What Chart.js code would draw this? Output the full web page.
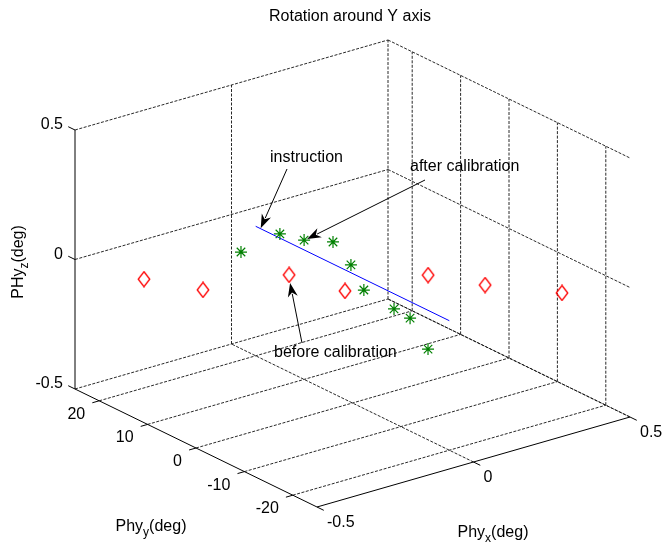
<!DOCTYPE html>
<html>
<head>
<meta charset="utf-8">
<script src="https://cdn.jsdelivr.net/npm/chart.js@4/dist/chart.umd.min.js"></script>
<style>
  html, body { margin: 0; padding: 0; background: #fff; }
  #wrap { width: 664px; height: 547px; position: relative; }
</style>
</head>
<body>
<div id="wrap"><canvas id="chart"></canvas></div>
<script>
// Axis limits and ticks
const xLimits = [-0.5, 0.5];
const yLimits = [-25, 25];
const zLimits = [-0.5, 0.5];
const xTicks = [-0.5, 0, 0.5];
const yTicks = [-20, -10, 0, 10, 20];
const zTicks = [-0.5, 0, 0.5];
const xTickLabels = ['-0.5', '0', '0.5'];
const yTickLabels = ['-20', '-10', '0', '10', '20'];
const zTickLabels = ['-0.5', '0', '0.5'];

// Instruction (commanded rotation)
const instructionX = [0, 0];
const instructionY = [20, -20];
const instructionZ = [0, 0];

// Before calibration
const beforeX = [-0.357, -0.272, -0.099, -0.024, 0.138, 0.218, 0.360];
const beforeY = [20, 13.3, 6.7, 0, -6.7, -13.3, -20];
const beforeZ = [-0.080, -0.090, -0.032, -0.059, 0.007, 0.001, -0.018];

// After calibration
const afterX = [-0.047, 0.000, 0.000, 0.015, -0.005, -0.041, -0.022, -0.048, -0.068];
const afterY = [20, 15, 10, 5, 0, -5, -10, -15, -20];
const afterZ = [-0.083, 0.016, 0.038, 0.071, 0.035, -0.004, -0.038, -0.019, -0.086];

// View: where the box corner (xmin, ymin, zmin) lands and the three box edges
const boxOrigin = [317, 507];
const boxEdgeX = [313, -90];
const boxEdgeY = [-242, -118];
const boxEdgeZ = [0, -259];

const FONT = '"Liberation Sans", Arial, sans-serif';
const SIZE = 16, SUB = 12;
const GREEN = '#008000';

// Project a 3D value onto the flat view plane
function project(x, y, z) {
    const nx = (x - xLimits[0]) / (xLimits[1] - xLimits[0]);
    const ny = (y - yLimits[0]) / (yLimits[1] - yLimits[0]);
    const nz = (z - zLimits[0]) / (zLimits[1] - zLimits[0]);
    return {
        x: boxOrigin[0] + nx * boxEdgeX[0] + ny * boxEdgeY[0] + nz * boxEdgeZ[0],
        y: boxOrigin[1] + nx * boxEdgeX[1] + ny * boxEdgeY[1] + nz * boxEdgeZ[1]
    };
}

function toPoints(xs, ys, zs) {
    return xs.map((x, i) => project(x, ys[i], zs[i]));
}

// Line dataset from a 3D segment
function segment(a, b, dashed) {
    return {
        type: 'scatter',
        data: [project(a[0], a[1], a[2]), project(b[0], b[1], b[2])],
        showLine: true,
        borderColor: dashed ? '#111' : '#000',
        borderWidth: dashed ? 0.9 : 1,
        borderDash: dashed ? [3, 1.5] : [],
        pointRadius: 0,
        order: dashed ? 10 : 5
    };
}

const [x0, x1] = xLimits;
const [y0, y1] = yLimits;
const [z0, z1] = zLimits;

const gridSets = [];
// back-left wall (y = ymax)
xTicks.filter(v => v !== x0).forEach(v => gridSets.push(segment([v, y1, z0], [v, y1, z1], true)));
zTicks.forEach(v => gridSets.push(segment([x0, y1, v], [x1, y1, v], true)));
// back-right wall (x = xmax)
yTicks.forEach(v => gridSets.push(segment([x1, v, z0], [x1, v, z1], true)));
zTicks.forEach(v => gridSets.push(segment([x1, y1, v], [x1, y0, v], true)));
// floor (z = zmin)
yTicks.forEach(v => gridSets.push(segment([x0, v, z0], [x1, v, z0], true)));
xTicks.filter(v => v !== x0).forEach(v => gridSets.push(segment([v, y0, z0], [v, y1, z0], true)));

// Axis lines and tick marks
const tickLenY = 1.4;     // in y units
const tickLenX = 0.022;   // in x units
const axisSets = [
    segment([x0, y1, z0], [x0, y1, z1], false),
    segment([x0, y0, z0], [x0, y1, z0], false),
    segment([x0, y0, z0], [x1, y0, z0], false)
];
zTicks.forEach(v => axisSets.push(segment([x0, y1, v], [x0, y1 + tickLenY, v], false)));
yTicks.forEach(v => axisSets.push(segment([x0, v, z0], [x0 - tickLenX, v, z0], false)));
xTicks.forEach(v => axisSets.push(segment([v, y0, z0], [v, y0 - tickLenY, z0], false)));

// Diamond marker, a little taller than wide
function diamondMarker() {
    const c = document.createElement('canvas');
    c.width = 14; c.height = 17;
    const g = c.getContext('2d');
    g.strokeStyle = '#ff0000';
    g.lineWidth = 1.3;
    g.beginPath();
    g.moveTo(7, 1); g.lineTo(12.8, 8.5); g.lineTo(7, 16); g.lineTo(1.2, 8.5);
    g.closePath();
    g.stroke();
    return c;
}

const instructionPts = toPoints(instructionX, instructionY, instructionZ);
const beforePts = toPoints(beforeX, beforeY, beforeZ);
const afterPts = toPoints(afterX, afterY, afterZ);

// Text with a subscript part
function subText(ctx, parts, x, y) {
    let w = 0;
    parts.forEach(p => {
        ctx.font = (p[1] ? SUB : SIZE) + 'px ' + FONT;
        w += ctx.measureText(p[0]).width;
    });
    let cx = x - w / 2;
    ctx.textAlign = 'left';
    ctx.textBaseline = 'middle';
    parts.forEach(p => {
        ctx.font = (p[1] ? SUB : SIZE) + 'px ' + FONT;
        ctx.fillText(p[0], cx, p[1] ? y + 6 : y);
        cx += ctx.measureText(p[0]).width;
    });
}

function arrow(ctx, fx, fy, tx, ty) {
    const a = Math.atan2(ty - fy, tx - fx);
    const len = 14, half = 5;
    const c = Math.cos(a), s = Math.sin(a);
    ctx.beginPath();
    ctx.moveTo(fx, fy);
    ctx.lineTo(tx - c * len * 0.8, ty - s * len * 0.8);
    ctx.stroke();
    ctx.beginPath();
    ctx.moveTo(tx, ty);
    ctx.lineTo(tx - c * len - s * half, ty - s * len + c * half);
    ctx.lineTo(tx - c * len * 0.7, ty - s * len * 0.7);
    ctx.lineTo(tx - c * len + s * half, ty - s * len - c * half);
    ctx.closePath();
    ctx.fill();
}

const labelsPlugin = {
    id: 'labels3d',
    afterDraw(chart) {
        const ctx = chart.ctx;
        const sx = chart.scales.x, sy = chart.scales.y;
        const px = p => ({ x: sx.getPixelForValue(p.x), y: sy.getPixelForValue(p.y) });
        ctx.save();
        ctx.fillStyle = '#000';
        ctx.strokeStyle = '#000';
        ctx.lineWidth = 1;
        ctx.font = SIZE + 'px ' + FONT;

        // z tick labels
        ctx.textAlign = 'right';
        ctx.textBaseline = 'middle';
        zTicks.forEach((v, i) => {
            const p = px(project(x0, y1, v));
            ctx.fillText(zTickLabels[i], p.x - 12, p.y - 5);
        });
        // y tick labels
        yTicks.forEach((v, i) => {
            const p = px(project(x0, v, z0));
            ctx.fillText(yTickLabels[i], p.x - 14, p.y + 13.5);
        });
        // x tick labels
        ctx.textAlign = 'left';
        xTicks.forEach((v, i) => {
            const p = px(project(v, y0, z0));
            ctx.fillText(xTickLabels[i], p.x + 10, p.y + 15.5);
        });

        // title, centred over the box
        ctx.textAlign = 'center';
        ctx.fillText('Rotation around Y axis', 350, 17);

        // axis titles
        subText(ctx, [['Phy', false], ['y', true], ['(deg)', false]], 151, 527);
        subText(ctx, [['Phy', false], ['x', true], ['(deg)', false]], 493, 533);
        ctx.save();
        ctx.translate(19, 262);
        ctx.rotate(-Math.PI / 2);
        subText(ctx, [['PHy', false], ['z', true], ['(deg)', false]], 0, 0);
        ctx.restore();

        // annotations
        ctx.font = SIZE + 'px ' + FONT;
        ctx.textAlign = 'left';
        ctx.textBaseline = 'middle';
        ctx.fillText('instruction', 270, 158);
        ctx.fillText('after calibration', 410, 167);
        ctx.fillText('before calibration', 274, 353);

        const tipInstr = px(instructionPts[0]);
        arrow(ctx, 287, 169, tipInstr.x + 5, tipInstr.y + 2);
        const tipAfter = px(afterPts[2]);
        arrow(ctx, 425, 180, tipAfter.x + 3, tipAfter.y - 1);
        const tipBefore = px(beforePts[2]);
        arrow(ctx, 302, 343, tipBefore.x + 1, tipBefore.y + 8);
        ctx.restore();
    }
};

new Chart(document.getElementById('chart'), {
    type: 'scatter',
    data: {
        datasets: [
            ...gridSets,
            ...axisSets,
            {
                label: 'instruction',
                data: instructionPts,
                showLine: true,
                borderColor: '#0000ff',
                borderWidth: 1,
                pointRadius: 0,
                order: 3
            },
            {
                label: 'before calibration',
                data: beforePts,
                pointStyle: diamondMarker(),
                pointRadius: 6,
                order: 2
            },
            {
                label: 'after calibration',
                data: afterPts,
                pointStyle: 'star',
                pointRadius: 6,
                borderColor: GREEN,
                backgroundColor: GREEN,
                borderWidth: 1.2,
                order: 1
            }
        ]
    },
    options: {
        responsive: true,
        maintainAspectRatio: false,
        animation: false,
        layout: { padding: 0, autoPadding: false },
        plugins: {
            legend: { display: false },
            tooltip: { enabled: false }
        },
        scales: {
            x: { type: 'linear', min: 0, max: 664, display: false },
            y: { type: 'linear', min: 0, max: 547, reverse: true, display: false }
        }
    },
    plugins: [labelsPlugin]
});
</script>
</body>
</html>
